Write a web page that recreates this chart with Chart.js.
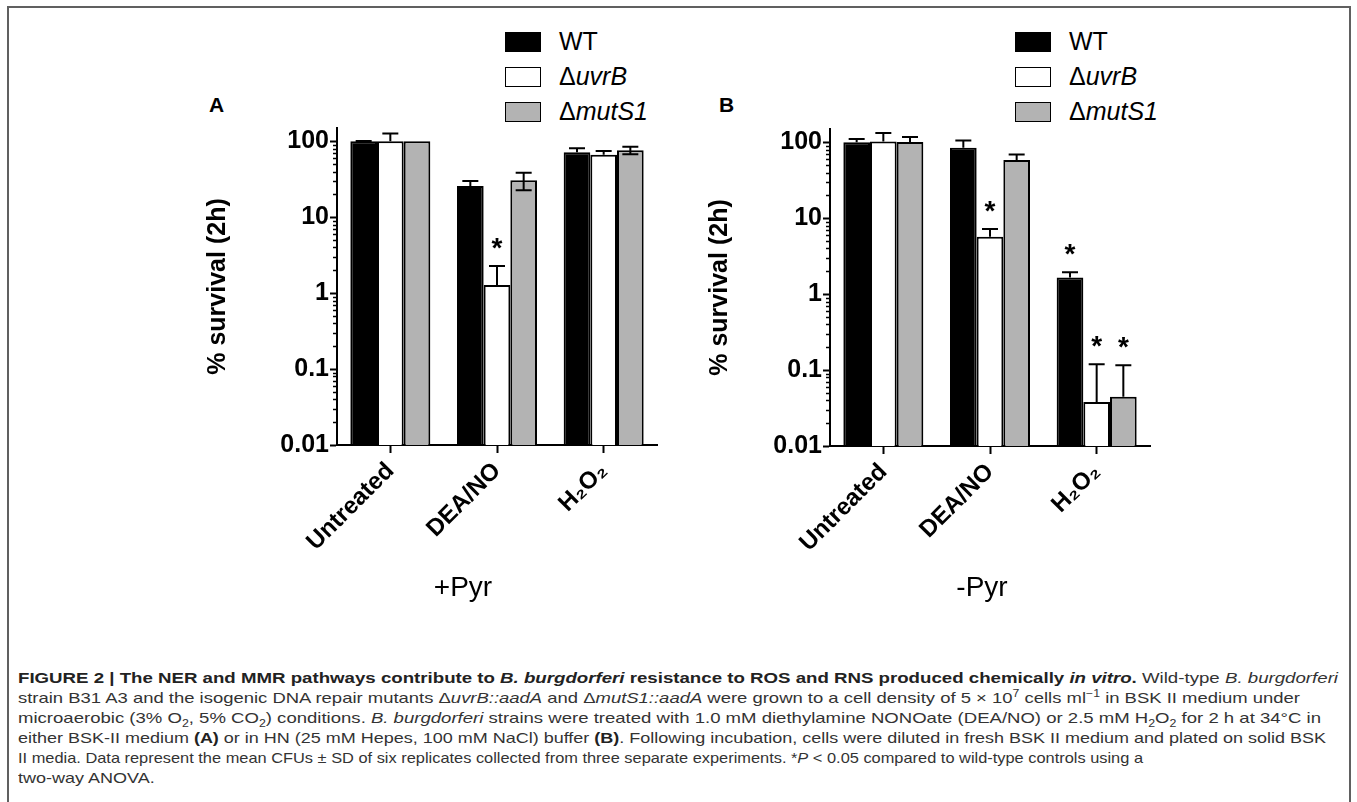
<!DOCTYPE html>
<html>
<head>
<meta charset="utf-8">
<script src="https://cdn.jsdelivr.net/npm/chart.js@4.4.1/dist/chart.umd.min.js"></script>
<style>
  body { margin: 0; background: #fff; font-family: "Liberation Sans", Arial, sans-serif; }
  #page { position: relative; width: 1357px; height: 802px; overflow: hidden; }
  .frame { position: absolute; left: 7px; top: 6px; width: 1340px; height: 840px; border: 2px solid #606060; }
  canvas { position: absolute; }
  .legend { position: absolute; font-size: 25px; color: #000; }
  .legend div { display: flex; align-items: center; height: 35px; line-height: 25px; }
  .legend .box { width: 36px; height: 20px; box-sizing: border-box; border: 1.5px solid #000; margin-right: 18px; }
  .panel { position: absolute; font-size: 21px; line-height: 21px; font-weight: bold; }
  .sub { position: absolute; font-size: 28px; line-height: 28px; width: 200px; text-align: center; }
  .cap { position: absolute; left: 18px; top: 668px; font-size: 15px; line-height: 20px; color: #333; white-space: nowrap; }
  .cap span { display: inline-block; transform-origin: 0 50%; }
  .cap b { color: #222; }
  .cap sub, .cap sup { font-size: 10px; line-height: 0; }
</style>
</head>
<body>
<div id="page">
  <div class="frame"></div>

  <div class="panel" style="left:209px; top:94px;">A</div>
  <div class="panel" style="left:719px; top:94px;">B</div>

  <div class="legend" style="left:505px; top:24px;">
    <div><span class="box" style="background:#000"></span>WT</div>
    <div><span class="box" style="background:#fff"></span>Δ<i>uvrB</i></div>
    <div><span class="box" style="background:#b3b3b3"></span>Δ<i>mutS1</i></div>
  </div>
  <div class="legend" style="left:1015px; top:24px;">
    <div><span class="box" style="background:#000"></span>WT</div>
    <div><span class="box" style="background:#fff"></span>Δ<i>uvrB</i></div>
    <div><span class="box" style="background:#b3b3b3"></span>Δ<i>mutS1</i></div>
  </div>

  <canvas id="chartA" width="510" height="480" style="left:170px; top:100px;"></canvas>
  <canvas id="chartB" width="510" height="480" style="left:663px; top:101px;"></canvas>

  <div class="sub" style="left:363px; top:573px;">+Pyr</div>
  <div class="sub" style="left:882px; top:573px;">-Pyr</div>

  <div class="cap">
    <div><span><b>FIGURE 2 | The NER and MMR pathways contribute to <i>B. burgdorferi</i> resistance to ROS and RNS produced chemically <i>in vitro</i>.</b> Wild-type <i>B. burgdorferi</i></span></div>
    <div><span>strain B31 A3 and the isogenic DNA repair mutants Δ<i>uvrB::aadA</i> and Δ<i>mutS1::aadA</i> were grown to a cell density of 5 × 10<sup>7</sup> cells ml<sup>−1</sup> in BSK II medium under</span></div>
    <div><span>microaerobic (3% O<sub>2</sub>, 5% CO<sub>2</sub>) conditions. <i>B. burgdorferi</i> strains were treated with 1.0 mM diethylamine NONOate (DEA/NO) or 2.5 mM H<sub>2</sub>O<sub>2</sub> for 2 h at 34°C in</span></div>
    <div><span>either BSK-II medium <b>(A)</b> or in HN (25 mM Hepes, 100 mM NaCl) buffer <b>(B)</b>. Following incubation, cells were diluted in fresh BSK II medium and plated on solid BSK</span></div>
    <div><span>II media. Data represent the mean CFUs ± SD of six replicates collected from three separate experiments. *<i>P</i> &lt; 0.05 compared to wild-type controls using a</span></div>
    <div><span>two-way ANOVA.</span></div>
  </div>
</div>

<script>
const categories = ['Untreated', 'DEA/NO', 'H₂O₂'];
const seriesNames = ['WT', 'ΔuvrB', 'ΔmutS1'];
const seriesColors = ['#000000', '#ffffff', '#b3b3b3'];
const yTicks = [0.01, 0.1, 1, 10, 100];

// A: +Pyr (BSK-II medium), % survival
const pyrWT = [100, 25.8, 72];
const pyrUvrB = [100, 1.28, 66.8];
const pyrMutS1 = [100, 30.7, 76.2];
const pyrWTsd = [1.5, 4.2, 9];
const pyrUvrBsd = [27, 1.0, 7.7];
const pyrMutS1sd = [0, 8, 8.7];
const pyrWTsig = [false, false, false];
const pyrUvrBsig = [false, true, false];
const pyrMutS1sig = [false, false, false];

// B: -Pyr (HN buffer)
const noPyrWT = [100, 85, 1.66];
const noPyrUvrB = [103, 5.7, 0.038];
const noPyrMutS1 = [101, 58.6, 0.0447];
const noPyrWTsd = [11, 21, 0.29];
const noPyrUvrBsd = [30, 1.5, 0.081];
const noPyrMutS1sd = [17, 10.4, 0.071];
const noPyrWTsig = [false, false, true];
const noPyrUvrBsig = [false, true, true];
const noPyrMutS1sig = [false, false, true];

Chart.defaults.font.family = '"Liberation Sans", Arial, sans-serif';
Chart.defaults.color = '#000';

function isDecade(v) {
  const l = Math.log10(v);
  return Math.abs(l - Math.round(l)) < 1e-9;
}

// error bars (mean + SD, optionally - SD) and significance stars
const errorBars = {
  id: 'errorBars',
  afterDatasetsDraw(chart) {
    const { ctx } = chart;
    const y = chart.scales.y;
    ctx.save();
    ctx.strokeStyle = '#000';
    ctx.lineWidth = 2;
    chart.data.datasets.forEach((ds, i) => {
      chart.getDatasetMeta(i).data.forEach((bar, j) => {
        const m = ds.data[j], s = ds.sd[j];
        let top = bar.y;
        if (s > 0) {
          top = y.getPixelForValue(m + s);
          ctx.beginPath();
          ctx.moveTo(bar.x, bar.y); ctx.lineTo(bar.x, top);
          ctx.moveTo(bar.x - 8, top); ctx.lineTo(bar.x + 8, top);
          if (ds.bothWays) {
            const low = y.getPixelForValue(m - s);
            ctx.moveTo(bar.x, bar.y); ctx.lineTo(bar.x, low);
            ctx.moveTo(bar.x - 8, low); ctx.lineTo(bar.x + 8, low);
          }
          ctx.stroke();
        }
        if (ds.sig[j]) {
          ctx.fillStyle = '#000';
          ctx.font = 'bold 28px "Liberation Sans", Arial, sans-serif';
          ctx.textAlign = 'center';
          ctx.textBaseline = 'alphabetic';
          ctx.fillText('*', bar.x, top - 25 + 16);
        }
      });
    });
    ctx.restore();
  }
};

// short minor ticks on the log axis
const minorTicks = {
  id: 'minorTicks',
  afterDraw(chart) {
    const { ctx } = chart;
    const y = chart.scales.y;
    ctx.save();
    ctx.strokeStyle = '#000';
    ctx.lineWidth = 1.5;
    ctx.beginPath();
    y.ticks.forEach(t => {
      const e = Math.floor(Math.log10(t.value) + 1e-9);
      const m = t.value / Math.pow(10, e);
      if (Math.abs(m - Math.round(m)) < 1e-6 && Math.round(m) >= 2) {
        const py = Math.round(y.getPixelForValue(t.value)) + 0.5;
        ctx.moveTo(y.right - 4, py); ctx.lineTo(y.right, py);
      }
    });
    ctx.stroke();
    ctx.restore();
  }
};

function makePanel(id, values, sds, sigs, bothWays, titlePad) {
  new Chart(document.getElementById(id), {
    type: 'bar',
    data: {
      labels: categories,
      datasets: seriesNames.map((name, i) => ({
        label: name,
        data: values[i],
        sd: sds[i],
        sig: sigs[i],
        bothWays: bothWays[i],
        backgroundColor: seriesColors[i],
        borderColor: '#000',
        borderWidth: 2,
        categoryPercentage: 0.75,
        barPercentage: 1
      }))
    },
    options: {
      responsive: false,
      animation: false,
      layout: { padding: { top: 28, right: 23 } },
      plugins: { legend: { display: false }, tooltip: { enabled: false } },
      scales: {
        x: {
          offset: true,
          border: { color: '#000', width: 2 },
          grid: { offset: false, drawOnChartArea: false, tickLength: 8, tickWidth: 2, tickColor: '#000' },
          ticks: {
            minRotation: 45, maxRotation: 45, padding: 4,
            font: { size: 24, weight: 'bold' }, color: '#000'
          },
          afterFit(s) { s.height = 135; }
        },
        y: {
          type: 'logarithmic',
          min: 0.01,
          max: 150,
          border: { color: '#000', width: 2 },
          grid: {
            drawOnChartArea: false, tickLength: 7, tickWidth: 2,
            tickColor: c => (c.tick && isDecade(c.tick.value)) ? '#000' : 'rgba(0,0,0,0)'
          },
          ticks: {
            autoSkip: false, padding: 1,
            font: { size: 25, weight: 'bold' }, color: '#000',
            callback: v => {
              const t = yTicks.find(k => Math.abs(k - v) / k < 1e-6);
              return t === undefined ? '' : String(t);
            }
          },
          title: {
            display: true, text: '% survival (2h)',
            font: { size: 25, weight: 'bold' }, color: '#000',
            padding: { top: titlePad, bottom: 0 }
          },
          afterFit(s) { s.width = 167; }
        }
      }
    },
    plugins: [errorBars, minorTicks]
  });
}

makePanel('chartA',
  [pyrWT, pyrUvrB, pyrMutS1],
  [pyrWTsd, pyrUvrBsd, pyrMutS1sd],
  [pyrWTsig, pyrUvrBsig, pyrMutS1sig],
  [false, false, true], 33);

makePanel('chartB',
  [noPyrWT, noPyrUvrB, noPyrMutS1],
  [noPyrWTsd, noPyrUvrBsd, noPyrMutS1sd],
  [noPyrWTsig, noPyrUvrBsig, noPyrMutS1sig],
  [false, false, false], 42);

// stretch each full caption line to the width it has in the printed figure;
// the short last line gets the average stretch
const captionRight = [1338, 1300, 1321, 1326, 1143];
const capLines = document.querySelectorAll('.cap span');
let sum = 0;
capLines.forEach((el, i) => {
  const w = el.getBoundingClientRect().width;
  const k = i < captionRight.length ? (captionRight[i] - 18) / w : sum / captionRight.length;
  if (i < captionRight.length) sum += k;
  el.style.transform = 'scaleX(' + k + ')';
});
</script>
</body>
</html>
